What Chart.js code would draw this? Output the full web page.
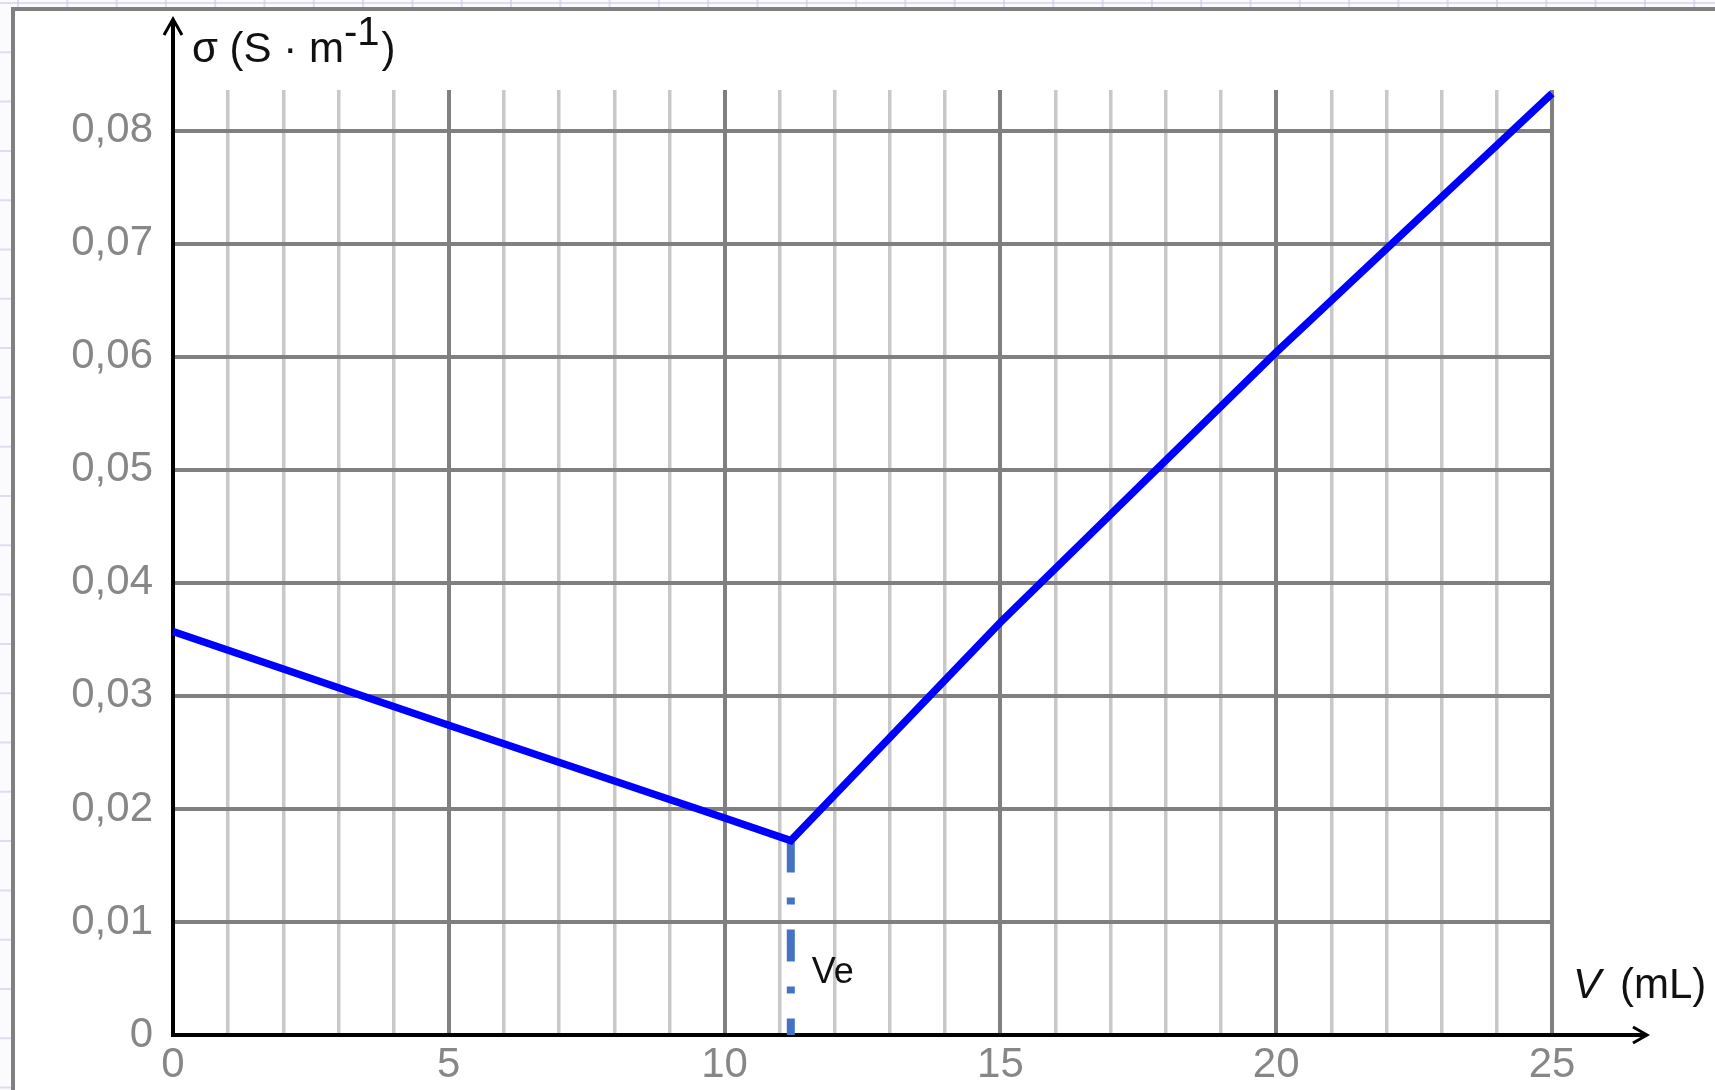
<!DOCTYPE html>
<html>
<head>
<meta charset="utf-8">
<script src="https://cdn.jsdelivr.net/npm/chart.js@4.4.1/dist/chart.umd.min.js"></script>
<style>
  html, body { margin: 0; padding: 0; background: #fff; overflow: hidden; }
  #wrap { position: relative; width: 1715px; height: 1090px; }
</style>
</head>
<body>
<div id="wrap"><canvas id="c" width="1715" height="1090"></canvas></div>
<script>
// Conductimetric titration: conductivity σ against added volume V
const volumes = [0, 5, 10, 11.2, 15, 20, 25];                                   // V (mL)
const conductivity = [0.0357, 0.0274, 0.0192, 0.0172, 0.0365, 0.0604, 0.0833];  // σ (S·m⁻¹)
const equivalenceVolume = 11.2;                                                 // Ve (mL)

const xTickLabels = ['0', '5', '10', '15', '20', '25'];
const yTickLabels = ['0', '0,01', '0,02', '0,03', '0,04', '0,05', '0,06', '0,07', '0,08'];

const FONT = '"Liberation Sans", Arial, sans-serif';
const TICK_GREY = '#878787';
const MAJOR_GRID = '#808080';
const MINOR_GRID = '#c8c8c8';

const curve = volumes.map((v, i) => ({ x: v, y: conductivity[i] }));
const sigmaAtVe = conductivity[volumes.indexOf(equivalenceVolume)];
const veMarker = [{ x: equivalenceVolume, y: sigmaAtVe }, { x: equivalenceVolume, y: 0 }];

// page background: faint squared paper with a grey frame
const paperPlugin = {
  id: 'paper',
  beforeDraw(chart) {
    const { ctx, width, height } = chart;
    ctx.save();
    ctx.fillStyle = '#fbfbfe';
    ctx.fillRect(0, 0, width, height);
    ctx.strokeStyle = 'rgba(196,196,232,0.55)';
    ctx.lineWidth = 2;
    for (let y = 3; y < height; y += 49.3) {
      ctx.beginPath(); ctx.moveTo(0, y); ctx.lineTo(width, y); ctx.stroke();
    }
    for (let x = 18; x < width; x += 49.3) {
      ctx.beginPath(); ctx.moveTo(x, 0); ctx.lineTo(x, height); ctx.stroke();
    }
    ctx.fillStyle = '#ffffff';
    ctx.fillRect(13, 9, width, height);
    ctx.fillStyle = '#808080';
    ctx.fillRect(11, 7, 4, height);
    ctx.fillRect(11, 7, width, 4);
    ctx.restore();
  }
};

// axes with open arrow heads, axis titles and the Ve label
const axesPlugin = {
  id: 'axes',
  beforeDatasetsDraw(chart) {
    const { ctx, scales: { x, y } } = chart;
    const x0 = x.getPixelForValue(0);
    const y0 = y.getPixelForValue(0);
    const yTip = 19;
    const xTip = 1647;
    ctx.save();
    ctx.strokeStyle = '#000';
    ctx.lineCap = 'butt';
    ctx.lineWidth = 4;
    ctx.beginPath();
    ctx.moveTo(x0, y0 + 2); ctx.lineTo(x0, yTip + 2);
    ctx.moveTo(x0 - 2, y0); ctx.lineTo(xTip - 2, y0);
    ctx.stroke();
    ctx.lineWidth = 3;
    ctx.lineJoin = 'miter';
    ctx.beginPath();
    ctx.moveTo(x0 - 9, yTip + 16); ctx.lineTo(x0, yTip); ctx.lineTo(x0 + 9, yTip + 16);
    ctx.moveTo(xTip - 14, y0 - 8); ctx.lineTo(xTip, y0); ctx.lineTo(xTip - 14, y0 + 8);
    ctx.stroke();
    ctx.restore();
  },
  afterDatasetsDraw(chart) {
    const { ctx, chartArea, scales: { x, y } } = chart;
    ctx.save();
    ctx.fillStyle = '#111';
    ctx.textBaseline = 'alphabetic';
    ctx.textAlign = 'left';
    // σ (S · m⁻¹)
    ctx.font = '42px ' + FONT;
    const tx = chartArea.left + 19, ty = 62;
    const main = 'σ (S · m';
    ctx.fillText(main, tx, ty);
    let cx = tx + ctx.measureText(main).width;
    ctx.font = '40px ' + FONT;
    ctx.fillText('-1', cx, ty - 17);
    cx += ctx.measureText('-1').width + 2;
    ctx.font = '42px ' + FONT;
    ctx.fillText(')', cx, ty);
    // V (mL)
    ctx.font = 'italic 42px ' + FONT;
    ctx.fillText('V', 1573, 998);
    ctx.font = '42px ' + FONT;
    ctx.fillText('(mL)', 1620, 998);
    // Ve
    ctx.font = '36px ' + FONT;
    ctx.fillText('Ve', x.getPixelForValue(equivalenceVolume) + 21, y.getPixelForValue(0) - 52);
    ctx.restore();
  }
};

new Chart(document.getElementById('c'), {
  type: 'line',
  data: {
    datasets: [
      {
        data: curve,
        borderColor: '#0000ff',
        borderWidth: 7.5,
        pointRadius: 0,
        tension: 0,
        fill: false,
        clip: 12
      },
      {
        data: veMarker,
        borderColor: '#4472c4',
        borderWidth: 8,
        borderDash: [32, 25, 7, 25],
        borderCapStyle: 'butt',
        pointRadius: 0,
        fill: false,
        clip: 12
      }
    ]
  },
  options: {
    responsive: false,
    animation: false,
    devicePixelRatio: 1,
    layout: { padding: { left: 0, top: 90, right: 163, bottom: 0 } },
    plugins: { legend: { display: false }, tooltip: { enabled: false } },
    scales: {
      x: {
        type: 'linear',
        min: 0,
        max: 25,
        afterFit(s) { s.height = 55; s.paddingLeft = 0; s.paddingRight = 0; },
        border: { display: false },
        grid: {
          drawTicks: false,
          color: c => (c.tick && c.tick.value % 5 === 0) ? MAJOR_GRID : MINOR_GRID,
          lineWidth: c => (c.tick && c.tick.value % 5 === 0) ? 4 : 3.5
        },
        ticks: {
          stepSize: 1,
          autoSkip: false,
          maxRotation: 0,
          padding: 5,
          color: TICK_GREY,
          font: { family: FONT, size: 42 },
          callback: v => (v % 5 === 0 ? xTickLabels[v / 5] : '')
        }
      },
      y: {
        type: 'linear',
        min: 0,
        max: 0.0836,
        afterFit(s) { s.width = 173; s.paddingTop = 0; s.paddingBottom = 0; },
        // one tick per labelled level: 0, 0.01 … 0.08
        afterBuildTicks(s) {
          s.ticks = yTickLabels.map((_, i) => ({ value: i / 100 }));
        },
        border: { display: false },
        grid: { drawTicks: false, color: MAJOR_GRID, lineWidth: 4 },
        ticks: {
          stepSize: 0.01,
          padding: 20,
          color: TICK_GREY,
          font: { family: FONT, size: 42 },
          callback: v => yTickLabels[Math.round(v * 100)]
        }
      }
    }
  },
  plugins: [paperPlugin, axesPlugin]
});
</script>
</body>
</html>
